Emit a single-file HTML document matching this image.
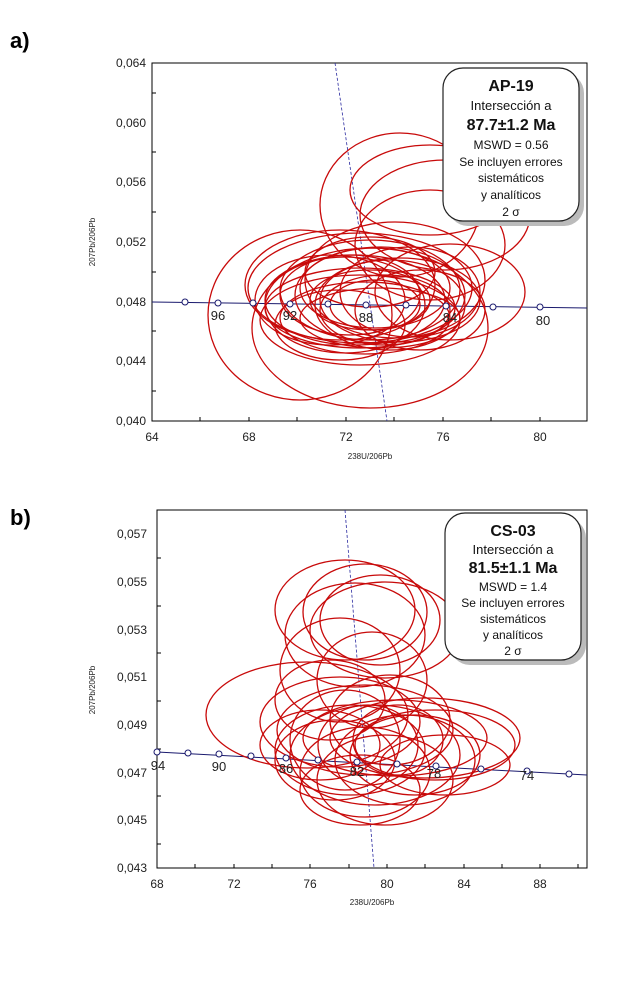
<!DOCTYPE html>
<html><head><meta charset="utf-8"><style>
body{margin:0;background:#fff;width:621px;height:985px;overflow:hidden}
svg{display:block}
text{font-family:"Liberation Sans",sans-serif}
</style></head><body>
<svg width="621" height="985" viewBox="0 0 621 985">
<text x="10" y="48" font-size="22" font-weight="bold">a)</text>
<text x="10" y="525" font-size="22" font-weight="bold">b)</text>

<!-- Panel A -->
<g>
<rect x="152" y="63" width="435" height="358" fill="none" stroke="#000" stroke-width="1"/>
<g font-size="12" text-anchor="end" fill="#222">
<text x="146" y="67">0,064</text><text x="146" y="127">0,060</text><text x="146" y="186">0,056</text>
<text x="146" y="246">0,052</text><text x="146" y="306">0,048</text><text x="146" y="365">0,044</text><text x="146" y="425">0,040</text>
</g>
<g stroke="#000" stroke-width="1">
<line x1="152" y1="93" x2="156" y2="93"/><line x1="152" y1="152" x2="156" y2="152"/><line x1="152" y1="212" x2="156" y2="212"/>
<line x1="152" y1="272" x2="156" y2="272"/><line x1="152" y1="331" x2="156" y2="331"/><line x1="152" y1="391" x2="156" y2="391"/>
<line x1="200" y1="421" x2="200" y2="417"/><line x1="249" y1="421" x2="249" y2="417"/><line x1="297" y1="421" x2="297" y2="417"/>
<line x1="346" y1="421" x2="346" y2="417"/><line x1="394" y1="421" x2="394" y2="417"/><line x1="443" y1="421" x2="443" y2="417"/>
<line x1="491" y1="421" x2="491" y2="417"/><line x1="540" y1="421" x2="540" y2="417"/>
</g>
<g font-size="12" text-anchor="middle" fill="#222">
<text x="152" y="441">64</text><text x="249" y="441">68</text><text x="346" y="441">72</text><text x="443" y="441">76</text><text x="540" y="441">80</text>
</g>
<text x="370" y="459" font-size="8" text-anchor="middle" fill="#222">238U/206Pb</text>
<text transform="translate(95,242) rotate(-90)" font-size="8" text-anchor="middle" fill="#222">207Pb/206Pb</text>
<line x1="152" y1="302" x2="587" y2="308" stroke="#1a1a6e" stroke-width="1"/>
<line x1="335" y1="63" x2="387" y2="421" stroke="#2a2aa0" stroke-width="0.8" stroke-dasharray="3,2"/>
<g fill="none" stroke="#c80a0a" stroke-width="1.3">
<ellipse cx="300" cy="315" rx="92" ry="85"/>
<ellipse cx="370" cy="328" rx="118" ry="80"/>
<ellipse cx="400" cy="205" rx="80" ry="72"/>
<ellipse cx="430" cy="190" rx="80" ry="45"/>
<ellipse cx="445" cy="215" rx="85" ry="55"/>
<ellipse cx="430" cy="245" rx="75" ry="55"/>
<ellipse cx="340" cy="285" rx="95" ry="55"/>
<ellipse cx="370" cy="290" rx="90" ry="50"/>
<ellipse cx="355" cy="300" rx="90" ry="45"/>
<ellipse cx="380" cy="295" rx="85" ry="48"/>
<ellipse cx="360" cy="308" rx="95" ry="40"/>
<ellipse cx="390" cy="305" rx="75" ry="45"/>
<ellipse cx="345" cy="305" rx="80" ry="48"/>
<ellipse cx="375" cy="288" rx="75" ry="40"/>
<ellipse cx="400" cy="300" rx="80" ry="42"/>
<ellipse cx="365" cy="318" rx="85" ry="36"/>
<ellipse cx="350" cy="295" rx="70" ry="40"/>
<ellipse cx="385" cy="310" rx="65" ry="35"/>
<ellipse cx="370" cy="300" rx="60" ry="30"/>
<ellipse cx="410" cy="292" rx="70" ry="45"/>
<ellipse cx="330" cy="300" rx="75" ry="45"/>
<ellipse cx="395" cy="280" rx="90" ry="58"/>
<ellipse cx="360" cy="320" rx="100" ry="45"/>
<ellipse cx="380" cy="318" rx="80" ry="30"/>
<ellipse cx="420" cy="310" rx="65" ry="40"/>
<ellipse cx="340" cy="325" rx="65" ry="35"/>
<ellipse cx="370" cy="272" rx="65" ry="35"/>
<ellipse cx="375" cy="305" rx="45" ry="25"/>
<ellipse cx="450" cy="292" rx="75" ry="48"/>
<ellipse cx="360" cy="288" rx="112" ry="55"/>
</g>
<g fill="#fff" stroke="#1a1a6e" stroke-width="1">
<circle cx="185" cy="302" r="3"/><circle cx="218" cy="303" r="3"/><circle cx="253" cy="303" r="3"/><circle cx="290" cy="304" r="3"/>
<circle cx="328" cy="304" r="3"/><circle cx="366" cy="305" r="3"/><circle cx="406" cy="305" r="3"/><circle cx="446" cy="306" r="3"/>
<circle cx="493" cy="307" r="3"/><circle cx="540" cy="307" r="3"/>
</g>
<g font-size="13" text-anchor="middle" fill="#222">
<text x="218" y="320">96</text><text x="290" y="320">92</text><text x="366" y="322">88</text><text x="450" y="322">84</text><text x="543" y="325">80</text>
</g>
<rect x="448" y="73" width="136" height="153" rx="20" fill="#bbb"/>
<rect x="443" y="68" width="136" height="153" rx="20" fill="#fff" stroke="#222" stroke-width="1.2"/>
<g text-anchor="middle" fill="#111">
<text x="511" y="91" font-size="16" font-weight="bold">AP-19</text>
<text x="511" y="110" font-size="13">Intersección a</text>
<text x="511" y="130" font-size="16" font-weight="bold">87.7±1.2  Ma</text>
<text x="511" y="149" font-size="12">MSWD = 0.56</text>
<text x="511" y="166" font-size="12">Se incluyen errores</text>
<text x="511" y="182" font-size="12">sistemáticos</text>
<text x="511" y="199" font-size="12">y analíticos</text>
<text x="511" y="216" font-size="12">2 σ</text>
</g>
</g>

<!-- Panel B -->
<g>
<rect x="157" y="510" width="430" height="358" fill="none" stroke="#000" stroke-width="1"/>
<g font-size="12" text-anchor="end" fill="#222">
<text x="147" y="538">0,057</text><text x="147" y="586">0,055</text><text x="147" y="634">0,053</text><text x="147" y="681">0,051</text>
<text x="147" y="729">0,049</text><text x="147" y="777">0,047</text><text x="147" y="824">0,045</text><text x="147" y="872">0,043</text>
</g>
<g stroke="#000" stroke-width="1">
<line x1="157" y1="558" x2="161" y2="558"/><line x1="157" y1="606" x2="161" y2="606"/><line x1="157" y1="653" x2="161" y2="653"/>
<line x1="157" y1="701" x2="161" y2="701"/><line x1="157" y1="749" x2="161" y2="749"/><line x1="157" y1="796" x2="161" y2="796"/><line x1="157" y1="844" x2="161" y2="844"/>
<line x1="195" y1="868" x2="195" y2="864"/><line x1="234" y1="868" x2="234" y2="864"/><line x1="272" y1="868" x2="272" y2="864"/>
<line x1="310" y1="868" x2="310" y2="864"/><line x1="349" y1="868" x2="349" y2="864"/><line x1="387" y1="868" x2="387" y2="864"/>
<line x1="425" y1="868" x2="425" y2="864"/><line x1="464" y1="868" x2="464" y2="864"/><line x1="502" y1="868" x2="502" y2="864"/>
<line x1="540" y1="868" x2="540" y2="864"/><line x1="578" y1="868" x2="578" y2="864"/>
</g>
<g font-size="12" text-anchor="middle" fill="#222">
<text x="157" y="888">68</text><text x="234" y="888">72</text><text x="310" y="888">76</text><text x="387" y="888">80</text><text x="464" y="888">84</text><text x="540" y="888">88</text>
</g>
<text x="372" y="905" font-size="8" text-anchor="middle" fill="#222">238U/206Pb</text>
<text transform="translate(95,690) rotate(-90)" font-size="8" text-anchor="middle" fill="#222">207Pb/206Pb</text>
<line x1="157" y1="752" x2="587" y2="775" stroke="#1a1a6e" stroke-width="1"/>
<line x1="345" y1="510" x2="374" y2="868" stroke="#2a2aa0" stroke-width="0.8" stroke-dasharray="3,2"/>
<g fill="none" stroke="#c80a0a" stroke-width="1.3">
<ellipse cx="345" cy="610" rx="70" ry="50"/>
<ellipse cx="365" cy="612" rx="62" ry="48"/>
<ellipse cx="380" cy="620" rx="60" ry="45"/>
<ellipse cx="355" cy="635" rx="70" ry="52"/>
<ellipse cx="385" cy="630" rx="75" ry="48"/>
<ellipse cx="340" cy="670" rx="60" ry="52"/>
<ellipse cx="372" cy="680" rx="55" ry="48"/>
<ellipse cx="307" cy="715" rx="101" ry="53"/>
<ellipse cx="340" cy="722" rx="80" ry="45"/>
<ellipse cx="365" cy="730" rx="88" ry="45"/>
<ellipse cx="395" cy="738" rx="92" ry="38"/>
<ellipse cx="425" cy="738" rx="95" ry="40"/>
<ellipse cx="435" cy="745" rx="80" ry="35"/>
<ellipse cx="350" cy="750" rx="75" ry="45"/>
<ellipse cx="375" cy="755" rx="85" ry="50"/>
<ellipse cx="365" cy="772" rx="65" ry="45"/>
<ellipse cx="385" cy="780" rx="68" ry="45"/>
<ellipse cx="335" cy="760" rx="60" ry="40"/>
<ellipse cx="405" cy="760" rx="70" ry="45"/>
<ellipse cx="345" cy="740" rx="55" ry="50"/>
<ellipse cx="390" cy="720" rx="60" ry="45"/>
<ellipse cx="415" cy="755" rx="65" ry="40"/>
<ellipse cx="320" cy="745" rx="60" ry="35"/>
<ellipse cx="368" cy="745" rx="50" ry="40"/>
<ellipse cx="398" cy="740" rx="45" ry="35"/>
<ellipse cx="360" cy="790" rx="60" ry="35"/>
<ellipse cx="445" cy="765" rx="65" ry="30"/>
<ellipse cx="330" cy="700" rx="55" ry="40"/>
</g>
<g fill="#fff" stroke="#1a1a6e" stroke-width="1">
<circle cx="157" cy="752" r="3"/><circle cx="188" cy="753" r="3"/><circle cx="219" cy="754" r="3"/><circle cx="251" cy="756" r="3"/>
<circle cx="286" cy="758" r="3"/><circle cx="318" cy="760" r="3"/><circle cx="357" cy="762" r="3"/><circle cx="397" cy="764" r="3"/>
<circle cx="436" cy="766" r="3"/><circle cx="481" cy="769" r="3"/><circle cx="527" cy="771" r="3"/><circle cx="569" cy="774" r="3"/>
</g>
<g font-size="13" text-anchor="middle" fill="#222">
<text x="158" y="770">94</text><text x="219" y="771">90</text><text x="286" y="773">86</text><text x="357" y="776">82</text><text x="434" y="778">78</text><text x="527" y="780">74</text>
</g>
<rect x="450" y="518" width="136" height="147" rx="20" fill="#bbb"/>
<rect x="445" y="513" width="136" height="147" rx="20" fill="#fff" stroke="#222" stroke-width="1.2"/>
<g text-anchor="middle" fill="#111">
<text x="513" y="536" font-size="16" font-weight="bold">CS-03</text>
<text x="513" y="554" font-size="13">Intersección a</text>
<text x="513" y="573" font-size="16" font-weight="bold">81.5±1.1  Ma</text>
<text x="513" y="591" font-size="12">MSWD = 1.4</text>
<text x="513" y="607" font-size="12">Se incluyen errores</text>
<text x="513" y="623" font-size="12">sistemáticos</text>
<text x="513" y="639" font-size="12">y analíticos</text>
<text x="513" y="655" font-size="12">2 σ</text>
</g>
</g>
</svg>
</body></html>
